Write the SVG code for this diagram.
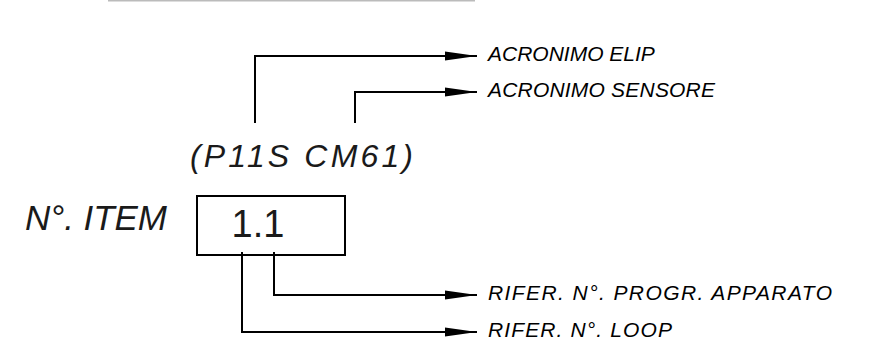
<svg xmlns="http://www.w3.org/2000/svg" width="896" height="354" viewBox="0 0 896 354">
  <style>
    .conn { fill: none; stroke: #000; stroke-width: 2; }
    .lbl { font-family: "Liberation Sans", Arial, sans-serif; font-style: italic; font-size: 21px; fill: #000; }
    .big { font-family: "Liberation Sans", Arial, sans-serif; fill: #1a1a1a; }
  </style>
  <defs>
    <marker id="arr" viewBox="0 0 32 10" refX="32" refY="5" markerWidth="32" markerHeight="10" markerUnits="userSpaceOnUse" orient="auto">
      <path d="M0,0.5 L32,5 L0,9.5 Z" fill="#000"/>
    </marker>
  </defs>

  <line x1="108" y1="0.5" x2="475" y2="0.5" stroke="#bbb" stroke-width="2"/>

  <g id="connectors">
    <polyline class="conn" points="255,123 255,56 477,56" marker-end="url(#arr)"/>
    <polyline class="conn" points="355,123 355,92 477,92" marker-end="url(#arr)"/>
    <polyline class="conn" points="274,252 274,295 477,295" marker-end="url(#arr)"/>
    <polyline class="conn" points="242,252 242,332 477,332" marker-end="url(#arr)"/>
  </g>

  <g id="code">
    <text class="big" x="190" y="167" font-size="32" font-style="italic" textLength="223" lengthAdjust="spacing">(P11S CM61)</text>
  </g>

  <g id="item-label">
    <text class="big" x="25" y="230" font-size="35" font-style="italic" textLength="142" lengthAdjust="spacing">N°. ITEM</text>
  </g>

  <g id="item-box">
    <rect x="197" y="196" width="148" height="59" fill="none" stroke="#000" stroke-width="2"/>
    <text class="big" x="258" y="237" font-size="38" text-anchor="middle">1.1</text>
  </g>

  <g id="label-elip">
    <text class="lbl" x="488" y="61">ACRONIMO ELIP</text>
  </g>
  <g id="label-sensore">
    <text class="lbl" x="488" y="97" textLength="227" lengthAdjust="spacing">ACRONIMO SENSORE</text>
  </g>
  <g id="label-progr">
    <text class="lbl" x="488" y="300" textLength="344" lengthAdjust="spacing">RIFER. N°. PROGR. APPARATO</text>
  </g>
  <g id="label-loop">
    <text class="lbl" x="488" y="337" textLength="184" lengthAdjust="spacing">RIFER. N°. LOOP</text>
  </g>
</svg>
